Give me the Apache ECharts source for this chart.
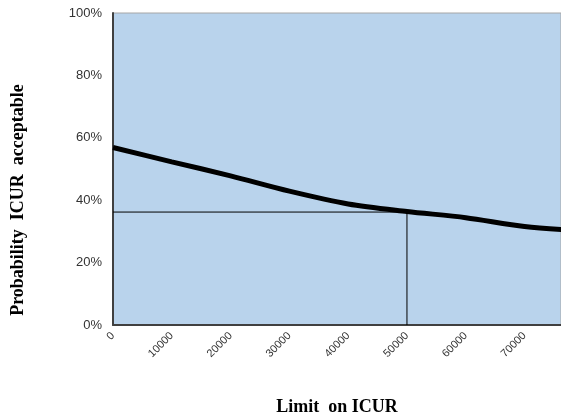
<!DOCTYPE html>
<html>
<head>
<meta charset="utf-8">
<script src="https://cdn.jsdelivr.net/npm/echarts@6/dist/echarts.min.js"></script>
<style>
  html, body { margin: 0; padding: 0; background: #fff; }
  #chart { width: 561px; height: 417px; }
</style>
</head>
<body>
<div id="chart"></div>
<script>
// limit on ICUR vs probability acceptable
var limits = [0, 10000, 20000, 30000, 40000, 50000, 60000, 70000, 80000]
var probability = [56.9, 52.3, 47.8, 42.9, 38.8, 36.4, 34.4, 31.6, 30.2]
// reference lines at limit 50000
var refX = [0, 50000, 50000]
var refY = [36.2, 36.2, 0]
var yTicks = [0, 20, 40, 60, 80, 100]

var chart = echarts.init(document.getElementById('chart'))

var option = {
  animation: false,
  grid: {
    left: 113,
    top: 13,
    right: 0,
    bottom: 92,
    outerBoundsMode: 'none',
    show: true,
    backgroundColor: '#b9d3ec',
    borderColor: '#a6a6a6',
    borderWidth: 1
  },
  xAxis: {
    type: 'value',
    min: 0,
    max: 76200,
    interval: 10000,
    name: 'Limit  on ICUR',
    nameLocation: 'middle',
    nameGap: 73,
    nameTextStyle: {
      fontFamily: 'Liberation Serif',
      fontWeight: 'bold',
      fontSize: 18,
      color: '#000'
    },
    axisLine: { lineStyle: { color: '#404040', width: 2 } },
    axisTick: { show: false },
    splitLine: { show: false },
    axisLabel: {
      rotate: 45,
      fontSize: 11,
      fontFamily: 'Liberation Sans',
      color: '#333',
      margin: 9,
      showMaxLabel: false,
      formatter: function (v) { return String(v) }
    }
  },
  yAxis: {
    type: 'value',
    min: yTicks[0],
    max: yTicks[yTicks.length - 1],
    interval: 20,
    axisLine: { show: true, lineStyle: { color: '#404040', width: 2 } },
    axisTick: { show: false },
    splitLine: { show: false },
    axisLabel: {
      formatter: '{value}%',
      fontSize: 13,
      fontFamily: 'Liberation Sans',
      color: '#333',
      margin: 11
    }
  },
  graphic: [{
    type: 'text',
    x: 18,
    y: 200,
    rotation: Math.PI / 2,
    style: {
      text: 'Probability  ICUR  acceptable',
      fontFamily: 'Liberation Serif',
      fontWeight: 'bold',
      fontSize: 18,
      fill: '#000',
      align: 'center',
      verticalAlign: 'middle'
    }
  }],
  series: [
    {
      type: 'line',
      data: refX.map(function (x, i) { return [x, refY[i]] }),
      symbol: 'none',
      lineStyle: { color: '#000', width: 1 },
      z: 2
    },
    {
      type: 'line',
      data: limits.map(function (x, i) { return [x, probability[i]] }),
      symbol: 'none',
      smooth: 0.3,
      lineStyle: { color: '#000', width: 5 },
      z: 3
    }
  ]
}

chart.setOption(option)
</script>
</body>
</html>
